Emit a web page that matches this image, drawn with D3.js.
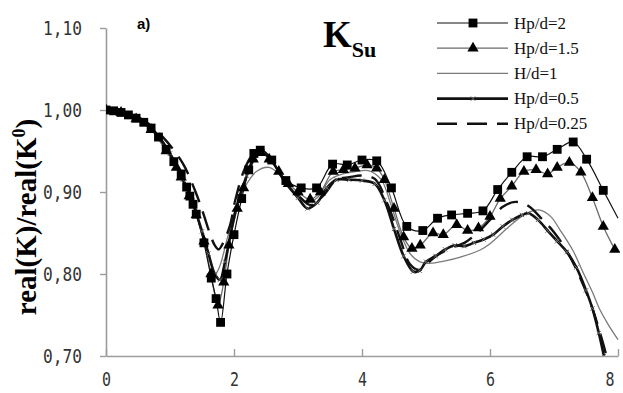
<!DOCTYPE html>
<html><head><meta charset="utf-8">
<script src="https://cdn.jsdelivr.net/npm/d3@7"></script>
<style>body{margin:0;background:#fff} svg{display:block}</style>
</head><body><svg id="c" width="623" height="393"></svg>
<script>
const xTicks=[0,2,4,6,8];
const yTicks=[0.7,0.8,0.9,1.0,1.1];
const seriesNames=["Hp/d=2","Hp/d=1.5","H/d=1","Hp/d=0.5","Hp/d=0.25"];

const hp2X=[0,0.12,0.235,0.35,0.47,0.59,0.705,0.82,0.94,1.06,1.175,1.26,1.31,1.36,1.41,1.53,1.645,1.72,1.79,1.89,2.0,2.12,2.23,2.31,2.41,2.59,2.81,3.05,3.29,3.54,3.77,4.0,4.23,4.46,4.70,4.95,5.18,5.40,5.65,5.89,6.12,6.34,6.58,6.82,7.05,7.30,7.51,7.77,8.0];
const hp2Y=[1.000,0.999,0.997,0.994,0.990,0.985,0.978,0.967,0.952,0.937,0.922,0.906,0.895,0.885,0.873,0.838,0.795,0.770,0.741,0.800,0.848,0.892,0.927,0.947,0.951,0.939,0.914,0.905,0.905,0.934,0.933,0.939,0.938,0.905,0.858,0.853,0.868,0.872,0.874,0.877,0.903,0.924,0.943,0.943,0.952,0.961,0.940,0.902,0.868];

const hp15X=[0,0.235,0.47,0.705,0.94,1.1,1.175,1.3,1.41,1.53,1.64,1.75,1.84,1.92,2.05,2.15,2.3,2.41,2.55,2.7,2.85,3.0,3.19,3.35,3.55,3.71,3.89,4.08,4.23,4.35,4.5,4.65,4.78,4.91,5.11,5.27,5.48,5.65,5.82,6.0,6.16,6.34,6.53,6.72,6.90,7.05,7.24,7.42,7.60,7.77,7.95];
const hp15Y=[1.000,0.997,0.989,0.976,0.950,0.930,0.918,0.895,0.872,0.840,0.800,0.762,0.790,0.835,0.880,0.905,0.940,0.948,0.940,0.925,0.910,0.900,0.891,0.900,0.925,0.927,0.929,0.933,0.929,0.915,0.880,0.845,0.831,0.835,0.850,0.848,0.860,0.853,0.856,0.870,0.892,0.907,0.925,0.927,0.922,0.930,0.936,0.924,0.893,0.858,0.830];

const hd1X=[0,0.3,0.6,0.9,1.2,1.4,1.55,1.65,1.71,1.78,1.9,2.05,2.2,2.35,2.55,2.75,2.95,3.15,3.3,3.5,3.7,3.9,4.1,4.3,4.45,4.6,4.75,4.9,5.06,5.3,5.55,5.84,6.0,6.3,6.57,6.78,6.95,7.1,7.3,7.46,7.6,7.72,7.85,8.0];
const hd1Y=[1.000,0.996,0.985,0.960,0.918,0.876,0.840,0.812,0.800,0.810,0.845,0.885,0.910,0.925,0.930,0.918,0.900,0.888,0.893,0.915,0.922,0.925,0.926,0.915,0.885,0.850,0.825,0.815,0.813,0.816,0.821,0.829,0.837,0.858,0.874,0.878,0.870,0.853,0.828,0.801,0.778,0.756,0.738,0.720];

const hp05X=[0,0.2,0.4,0.6,0.8,1.0,1.2,1.35,1.5,1.6,1.7,1.78,1.86,1.95,2.05,2.2,2.35,2.45,2.6,2.8,3.0,3.15,3.3,3.45,3.6,3.8,4.0,4.2,4.35,4.5,4.65,4.8,4.9,5.0,5.15,5.3,5.45,5.6,5.75,5.9,6.05,6.2,6.35,6.5,6.6,6.75,6.9,7.05,7.2,7.35,7.5,7.6,7.7,7.78];
const hp05Y=[1.000,0.998,0.993,0.985,0.970,0.947,0.915,0.888,0.852,0.825,0.800,0.793,0.815,0.850,0.885,0.920,0.945,0.950,0.937,0.912,0.893,0.880,0.887,0.905,0.915,0.915,0.914,0.910,0.890,0.855,0.822,0.803,0.804,0.815,0.822,0.830,0.835,0.834,0.838,0.842,0.848,0.858,0.866,0.872,0.874,0.866,0.853,0.840,0.827,0.808,0.780,0.758,0.728,0.700];

const hp025X=[0,0.3,0.6,0.9,1.2,1.4,1.52,1.62,1.7,1.76,1.83,1.94,2.02,2.16,2.3,2.42,2.6,2.8,3.0,3.2,3.4,3.6,3.8,4.0,4.2,4.4,4.6,4.75,4.9,5.05,5.2,5.4,5.6,5.8,6.0,6.2,6.4,6.6,6.8,7.0,7.2,7.4,7.6,7.75,7.82];
const hp025Y=[1.000,0.997,0.987,0.966,0.935,0.900,0.874,0.850,0.835,0.830,0.838,0.860,0.890,0.927,0.946,0.950,0.937,0.913,0.896,0.884,0.896,0.915,0.918,0.920,0.916,0.885,0.842,0.812,0.805,0.815,0.824,0.832,0.838,0.850,0.866,0.882,0.888,0.883,0.868,0.851,0.828,0.797,0.758,0.720,0.700];

const svg=d3.select("#c");
const L=106,R=618,T=28,B=356;
const xs=d3.scaleLinear().domain([0,8]).range([L,R]);
const ys=d3.scaleLinear().domain([0.7,1.1]).range([B,T]);
const fmt=d=>d.toFixed(2).replace(".",",");
const zip=(a,b)=>a.map((v,i)=>[v,b[i]]);

svg.append("defs").append("clipPath").attr("id","pc")
  .append("rect").attr("x",L).attr("y",T-10).attr("width",R-L+2).attr("height",B-T+10);

// axes
const axisCol="#9c9c9c";
const yAx=svg.append("g").attr("transform",`translate(${L},0)`)
  .call(d3.axisLeft(ys).tickValues(yTicks).tickSizeInner(6).tickSizeOuter(0).tickPadding(18).tickFormat(fmt));
const xAx=svg.append("g").attr("transform",`translate(0,${B})`)
  .call(d3.axisBottom(xs).tickValues(xTicks).tickSizeInner(-7).tickSizeOuter(0).tickPadding(17).tickFormat(d3.format("d")));
[yAx,xAx].forEach(g=>{
  g.select(".domain").attr("stroke",axisCol).attr("stroke-width",1.6);
  g.selectAll(".tick line").attr("stroke",axisCol).attr("stroke-width",1.4);
  g.selectAll(".tick text").attr("fill","#333").style("font-family","'DejaVu Sans Mono'").style("font-size","19px");
});
yAx.selectAll(".tick text").attr("textLength",39).attr("lengthAdjust","spacingAndGlyphs");
xAx.selectAll(".tick text").attr("textLength",9).attr("lengthAdjust","spacingAndGlyphs")
  .attr("dx",d=>d===8?"-0.45em":null);

// lines
const line=d3.line().x(d=>xs(d[0])).y(d=>ys(d[1])).curve(d3.curveCatmullRom.alpha(0.5));
const plot=svg.append("g").attr("clip-path","url(#pc)");
const styles=[
  {name:seriesNames[2],data:zip(hd1X,hd1Y),stroke:"#7a7a7a",w:1.3,dash:null},
  {name:seriesNames[1],data:zip(hp15X,hp15Y),stroke:"#6a6a6a",w:1.3,dash:null},
  {name:seriesNames[0],data:zip(hp2X,hp2Y),stroke:"#111",w:1.2,dash:null},
  {name:seriesNames[3],data:zip(hp05X,hp05Y),stroke:"#111",w:2.6,dash:null},
  {name:seriesNames[4],data:zip(hp025X,hp025Y),stroke:"#111",w:2.4,dash:"20,10"},
];
styles.forEach(s=>{
  plot.append("path").datum(s.data).attr("d",line).attr("fill","none")
    .attr("stroke",s.stroke).attr("stroke-width",s.w).attr("stroke-dasharray",s.dash);
});
// markers
const sq=d3.symbol().type(d3.symbolSquare).size(78);
const tri=d3.symbol().type(d3.symbolTriangle).size(55);
const cross=d3.symbol().type(d3.symbolX).size(14);
plot.selectAll(".m05").data(zip(hp05X,hp05Y)).join("path").attr("d",cross)
  .attr("transform",d=>`translate(${xs(d[0])},${ys(d[1])})`).attr("fill","none").attr("stroke","#666").attr("stroke-width",1);
plot.selectAll(".m15").data(zip(hp15X,hp15Y)).join("path").attr("d",tri)
  .attr("transform",d=>`translate(${xs(d[0])},${ys(d[1])})`).attr("fill","#000");
plot.selectAll(".m2").data(zip(hp2X,hp2Y).filter(d=>d[0]<7.95)).join("path").attr("d",sq)
  .attr("transform",d=>`translate(${xs(d[0])},${ys(d[1])})`).attr("fill","#000");

// legend
const lg=svg.append("g");
const legendStyles=[styles[2],styles[1],styles[0],styles[3],styles[4]];
const markers=[sq,tri,null,cross,null];
legendStyles.forEach((s,i)=>{
  const y=23+i*25.2;
  lg.append("line").attr("x1",437).attr("x2",508).attr("y1",y).attr("y2",y)
    .attr("stroke",s.stroke).attr("stroke-width",s.w).attr("stroke-dasharray",s.dash);
  if(markers[i]){
    const m=lg.append("path").attr("d",markers[i]).attr("transform",`translate(473,${y})`);
    if(i===3) m.attr("fill","none").attr("stroke","#666"); else m.attr("fill","#000");
  }
  lg.append("text").attr("x",514).attr("y",y+5.5).text(s.name)
    .style("font-family","'Liberation Serif'").style("font-size","17px").attr("fill","#111");
});

// title
const t=svg.append("text").attr("x",323).attr("y",47).attr("fill","#000")
  .style("font-family","'Liberation Serif'").style("font-weight","bold");
t.append("tspan").style("font-size","37px").text("K");
t.append("tspan").style("font-size","22px").attr("dy",10).text("Su");

svg.append("text").attr("x",137).attr("y",29).text("a)")
  .style("font-family","'Liberation Sans'").style("font-weight","bold").style("font-size","15px");

// y label
const yl=svg.append("text").attr("transform","translate(36,217) rotate(-90)").attr("text-anchor","middle")
  .style("font-family","'Liberation Serif'").style("font-weight","bold").style("font-size","29px").attr("fill","#000");
yl.append("tspan").text("real(K)/real(K");
yl.append("tspan").attr("dy",-11).style("font-size","18px").text("0");
yl.append("tspan").attr("dy",11).text(")");
</script></body></html>
